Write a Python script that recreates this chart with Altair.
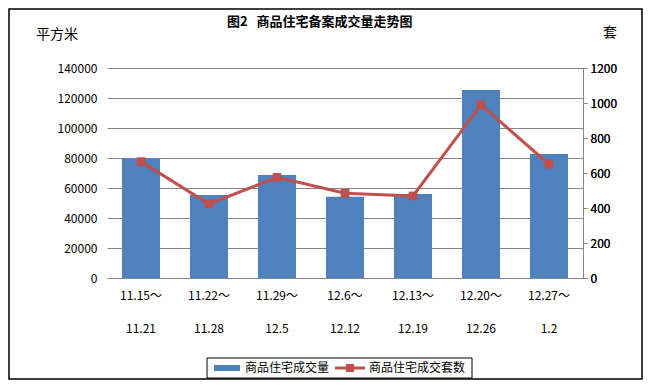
import altair as alt
import pandas as pd

weeks_start = ["11.15～", "11.22～", "11.29～", "12.6～", "12.13～", "12.20～", "12.27～"]
weeks_end = ["11.21", "11.28", "12.5", "12.12", "12.19", "12.26", "1.2"]
area = [79800, 55300, 68700, 54200, 56000, 125300, 82700]
units = [665, 423, 575, 484, 469, 989, 650]

left_ticks = [0, 20000, 40000, 60000, 80000, 100000, 120000, 140000]
right_ticks = [0, 200, 400, 600, 800, 1000, 1200]

title_text = "图2\u00a0\u00a0\u00a0商品住宅备案成交量走势图"
left_unit = "平方米"
right_unit = "套"
legend_bar = "商品住宅成交量"
legend_line = "商品住宅成交套数"

BLUE = "#4F81BD"
RED = "#C0504D"
GRID = "#868686"
FONT = "Noto Sans CJK SC"

labels = [f"{a}|{b}" for a, b in zip(weeks_start, weeks_end)]
df = pd.DataFrame({"week": labels, "area": area, "units": units})
one = pd.DataFrame({"k": [0]})

W, H = 476, 210

xenc = alt.X(
    "week:N", sort=labels, title=None,
    scale=alt.Scale(paddingInner=0.44, paddingOuter=0.22),
    axis=alt.Axis(
        labelExpr="split(datum.label, '|')", labelAngle=0, ticks=False,
        domain=True, domainColor=GRID, labelFont=FONT, labelFontSize=12,
        labelColor="black", labelBaseline="top", labelPadding=12,
        labelLineHeight=33,
    ),
)

bars = alt.Chart(df).mark_bar(color=BLUE).encode(
    x=xenc,
    y=alt.Y("area:Q", title=None,
            scale=alt.Scale(domain=[0, 140000], nice=False),
            axis=alt.Axis(orient="left", values=left_ticks, grid=True,
                          gridColor=GRID, domain=False, ticks=False,
                          labelPadding=10, labelFont=FONT, labelFontSize=12,
                          labelColor="black", format="d")),
)

yright = alt.Y("units:Q", title=None,
               scale=alt.Scale(domain=[0, 1200], nice=False),
               axis=alt.Axis(orient="right", values=right_ticks, grid=False,
                             domain=True, domainColor=GRID, ticks=True,
                             tickColor=GRID, tickSize=4, labelPadding=3,
                             labelFont=FONT, labelFontSize=12,
                             labelColor="black", format="d"))

line = alt.Chart(df).mark_line(color=RED, strokeWidth=3).encode(x=xenc, y=yright)
pts = alt.Chart(df).mark_point(shape="square", filled=True, color=RED,
                               size=75, opacity=1).encode(x=xenc, y=yright)

def txt(s, x, y, size=12, bold=False, align="left"):
    return alt.Chart(one).mark_text(
        text=s, font=FONT, fontSize=size, fontWeight="bold" if bold else "normal",
        align=align, baseline="middle", color="black",
    ).encode(x=alt.value(x), y=alt.value(y))

title = txt(title_text, 120, -46, size=13, bold=True)
lunit = txt(left_unit, -71, -33, size=14)
runit = txt(right_unit, 496, -35, size=14)

frame = alt.Chart(one).mark_rect(fill=None, stroke="black", strokeWidth=1.5).encode(
    x=alt.value(-98), x2=alt.value(535), y=alt.value(-59), y2=alt.value(311))

lbox = alt.Chart(one).mark_rect(fill="white", stroke="black", strokeWidth=1).encode(
    x=alt.value(100), x2=alt.value(365), y=alt.value(290), y2=alt.value(310))
lsym1 = alt.Chart(one).mark_rect(color=BLUE).encode(
    x=alt.value(107), x2=alt.value(133), y=alt.value(297), y2=alt.value(303))
ltxt1 = txt(legend_bar, 138, 300, size=12)
lsym2 = alt.Chart(one).mark_rule(color=RED, strokeWidth=3).encode(
    x=alt.value(228), x2=alt.value(258), y=alt.value(300))
lsq = alt.Chart(one).mark_point(shape="square", filled=True, color=RED,
                                size=64, opacity=1).encode(
    x=alt.value(243), y=alt.value(300))
ltxt2 = txt(legend_line, 262, 300, size=12)

chart = alt.layer(
    bars, line, pts, title, lunit, runit, frame, lbox, lsym1, ltxt1, lsym2, lsq, ltxt2
).resolve_scale(y="independent").properties(
    width=W, height=H,
    autosize=alt.AutoSizeParams(type="none"),
    padding={"left": 99, "top": 60, "right": 60, "bottom": 103},
    background="white",
).configure_view(stroke=None)

chart.save("out.html", embed_options={"renderer": "svg", "actions": False})
